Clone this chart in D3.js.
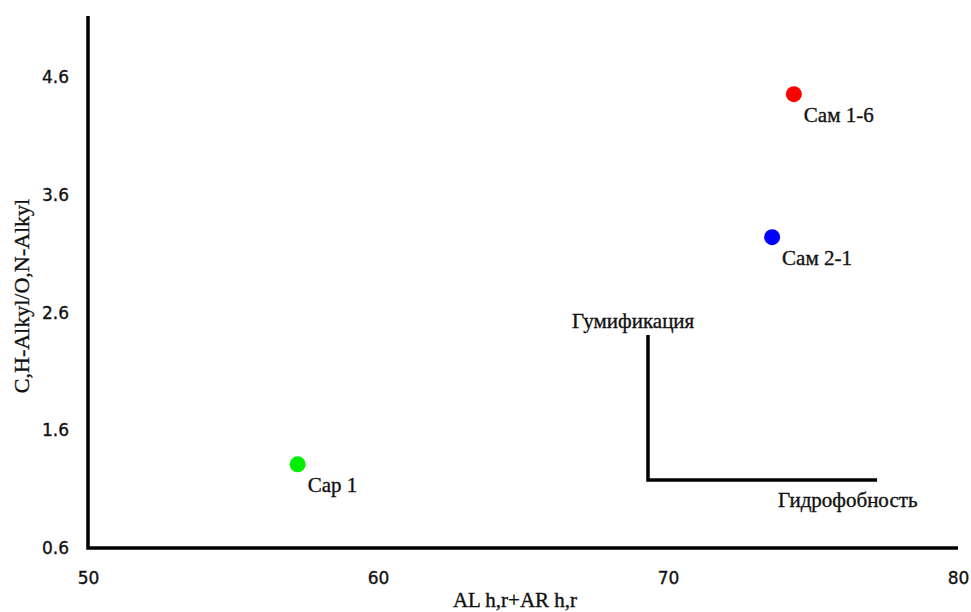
<!DOCTYPE html>
<html><head><meta charset="utf-8">
<script src="https://cdn.jsdelivr.net/npm/d3@7"></script>
<style>body{margin:0;background:#fff}svg{display:block}text{fill:#111;stroke:#111;stroke-width:0.35px}</style>
</head><body>
<script>
const labels = ["Сам 1-6", "Сам 2-1", "Сар 1"];
const xVals = [74.34, 73.59, 57.23];
const yVals = [4.456, 3.241, 1.311];
const colors = ["#ff0000", "#0000ff", "#00ee00"];
const xTicks = [50, 60, 70, 80];
const yTicks = [0.6, 1.6, 2.6, 3.6, 4.6];
const arrowX = [69.31, 77.21];
const arrowY = [1.177, 2.409];
const arrowLabels = ["Гумификация", "Гидрофобность"];

const SERIF = '"Liberation Serif","Times New Roman",serif';
const SANS = '"DejaVu Sans",sans-serif';
const W = 971, H = 612;
const svg = d3.select("body").append("svg").attr("width", W).attr("height", H);
const x = d3.scaleLinear().domain([50, 80]).range([88, 958]);
const y = d3.scaleLinear().domain([0.6, 5.12]).range([548, 16]);

// axes
const xAxis = svg.append("g").attr("transform", `translate(0,${y(0.6)})`)
  .call(d3.axisBottom(x).tickValues(xTicks).tickSize(0).tickPadding(24).tickFormat(d3.format("d")));
xAxis.select(".domain").remove();
xAxis.attr("font-family", SANS).attr("font-size", 17);
xAxis.selectAll("text").attr("fill", "#111");

const yAxis = svg.append("g").attr("transform", `translate(${x(50)},0)`)
  .call(d3.axisLeft(y).tickValues(yTicks).tickSize(0).tickPadding(19).tickFormat(d3.format(".1f")));
yAxis.select(".domain").remove();
yAxis.attr("font-family", SANS).attr("font-size", 17);
yAxis.selectAll("text").attr("fill", "#111");

svg.append("path")
  .attr("d", `M${x(50)},${y(5.12)}V${y(0.6)}H${x(80)}`)
  .attr("fill", "none").attr("stroke", "#000").attr("stroke-width", 3.5);

svg.append("text").attr("x", 515).attr("y", 607)
  .attr("text-anchor", "middle").attr("font-family", SERIF).attr("font-size", 21).text("AL h,r+AR h,r");
svg.append("text").attr("transform", `translate(29,296) rotate(-90)`)
  .attr("text-anchor", "middle").attr("font-family", SERIF).attr("font-size", 22).text("C,H-Alkyl/O,N-Alkyl");

// annotation
svg.append("path")
  .attr("d", `M${x(arrowX[0])},${y(arrowY[1])}V${y(arrowY[0])}H${x(arrowX[1])}`)
  .attr("fill", "none").attr("stroke", "#000").attr("stroke-width", 3.5);
svg.append("text").attr("x", x(arrowX[0]) - 76).attr("y", y(arrowY[1]) - 7)
  .attr("font-family", SERIF).attr("font-size", 21).text(arrowLabels[0]);
svg.append("text").attr("x", x(arrowX[1]) - 99).attr("y", y(arrowY[0]) + 27)
  .attr("font-family", SERIF).attr("font-size", 21).text(arrowLabels[1]);

// points
const pts = svg.append("g");
labels.forEach((l, i) => {
  pts.append("circle").attr("cx", x(xVals[i])).attr("cy", y(yVals[i])).attr("r", 8).attr("fill", colors[i]);
  pts.append("text").attr("x", x(xVals[i]) + 10).attr("y", y(yVals[i]) + 28)
    .attr("font-family", SERIF).attr("font-size", 21).text(l);
});
</script>
</body></html>
